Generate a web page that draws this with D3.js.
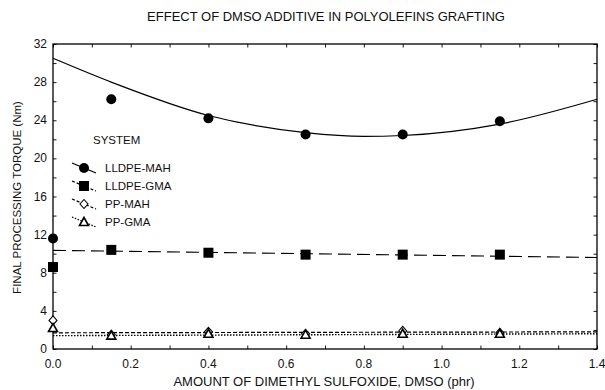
<!DOCTYPE html>
<html>
<head>
<meta charset="utf-8">
<script src="https://cdn.jsdelivr.net/npm/d3@7"></script>
<style>
    body { margin: 0; background: #fff; }
    svg { display: block; font-family: 'Liberation Sans', Arial, sans-serif; }
    .tick-label { font-size: 12px; fill: #111; }
    .legend-label { font-size: 11.5px; fill: #111; }
    .axis-label { font-size: 12.5px; fill: #111; }
</style>
</head>
<body>
<svg width="605" height="390"></svg>
<script>
// measured points
const dmso = [ 0, 0.15, 0.4, 0.65, 0.9, 1.15 ];
const lldpeMah = [ 11.6, 26.2, 24.2, 22.5, 22.5, 23.9 ];
const lldpeGma = [ 8.6, 10.4, 10.1, 9.9, 9.9, 9.9 ];
const ppMah = [ 3.0, 1.5, 1.8, 1.6, 1.9, 1.7 ];
const ppGma = [ 2.2, 1.4, 1.6, 1.5, 1.6, 1.6 ];

// fitted lines
const fitMahX = [ 0, 0.15, 0.4, 0.65, 0.8, 0.9, 1.15, 1.4 ];
const fitMahY = [ 30.5, 28.0, 24.5, 22.7, 22.3, 22.4, 23.6, 26.2 ];
const fitLineX = [ 0, 1.4 ];
const fitGmaY = [ 10.35, 9.6 ];
const fitPpMahY = [ 1.7, 1.8 ];
const fitPpGmaY = [ 1.4, 1.6 ];

const xTicks = [ 0, 0.2, 0.4, 0.6, 0.8, 1.0, 1.2, 1.4 ];
const yTicks = [ 0, 4, 8, 12, 16, 20, 24, 28, 32 ];
const seriesNames = [ 'LLDPE-MAH', 'LLDPE-GMA', 'PP-MAH', 'PP-GMA' ];

const margin = { left: 53, right: 8, top: 44, bottom: 41 };
const width = 605, height = 390;

const svg = d3.select( 'svg' );
const xScale = d3.scaleLinear().domain( [ 0, 1.4 ] ).range( [ margin.left, width - margin.right ] );
const yScale = d3.scaleLinear().domain( [ 0, 32 ] ).range( [ height - margin.bottom, margin.top ] );

const styles = [
    { dash: null, shape: 'circle' },
    { dash: '13,6', shape: 'square' },
    { dash: '4,2', shape: 'diamond' },
    { dash: '1.5,1.5', shape: 'triangle' }
];

function drawMarker( group, shape, x, y ) {
    if ( shape === 'circle' ) {
        group.append( 'circle' ).attr( 'cx', x ).attr( 'cy', y ).attr( 'r', 5 ).attr( 'fill', '#000' );
    } else if ( shape === 'square' ) {
        group.append( 'rect' ).attr( 'x', x - 5 ).attr( 'y', y - 5 )
            .attr( 'width', 10 ).attr( 'height', 10 ).attr( 'fill', '#000' );
    } else if ( shape === 'diamond' ) {
        group.append( 'path' )
            .attr( 'd', `M${x},${y - 4.5}L${x + 4},${y}L${x},${y + 4.5}L${x - 4},${y}Z` )
            .attr( 'fill', '#fff' ).attr( 'stroke', '#000' ).attr( 'stroke-width', 1.1 );
    } else {
        group.append( 'path' )
            .attr( 'd', `M${x},${y - 4.5}L${x + 4.5},${y + 3.5}L${x - 4.5},${y + 3.5}Z` )
            .attr( 'fill', '#fff' ).attr( 'stroke', '#000' ).attr( 'stroke-width', 1.6 );
    }
}

// axes: inward ticks on all four sides
const innerH = yScale( 0 ) - yScale( 32 );
const innerW = xScale( 1.4 ) - xScale( 0 );
const minorX = d3.range( 0, 15 ).map( i => i / 10 );
const minorY = d3.range( 0, 17 ).map( i => i * 2 );

function tickAxis( axis, scale, values, transform ) {
    const g = svg.append( 'g' ).attr( 'transform', transform )
        .call( axis( scale ).tickValues( values ).tickSize( 3.5 ).tickFormat( '' ) );
    g.select( '.domain' ).remove();
    g.selectAll( 'line' ).attr( 'stroke', '#000' ).attr( 'stroke-width', 0.9 );
    return g;
}
tickAxis( d3.axisTop, xScale, minorX, `translate(0,${yScale( 0 )})` );
tickAxis( d3.axisBottom, xScale, minorX, `translate(0,${yScale( 32 )})` );
tickAxis( d3.axisRight, yScale, minorY, `translate(${xScale( 0 )},0)` );
tickAxis( d3.axisLeft, yScale, minorY, `translate(${xScale( 1.4 )},0)` );

svg.append( 'rect' )
    .attr( 'x', xScale( 0 ) ).attr( 'y', yScale( 32 ) )
    .attr( 'width', innerW ).attr( 'height', innerH )
    .attr( 'fill', 'none' ).attr( 'stroke', '#000' ).attr( 'stroke-width', 1.3 );

svg.append( 'g' ).selectAll( 'text' ).data( xTicks ).enter().append( 'text' )
    .attr( 'class', 'tick-label' )
    .attr( 'x', d => xScale( d ) ).attr( 'y', yScale( 0 ) + 19 )
    .attr( 'text-anchor', 'middle' )
    .text( d => d.toFixed( 1 ) );

svg.append( 'g' ).selectAll( 'text' ).data( yTicks ).enter().append( 'text' )
    .attr( 'class', 'tick-label' )
    .attr( 'x', xScale( 0 ) - 6 ).attr( 'y', d => yScale( d ) + 4 )
    .attr( 'text-anchor', 'end' )
    .text( d => d );

// titles
svg.append( 'text' ).attr( 'class', 'axis-label' ).style( 'font-size', '13px' )
    .attr( 'x', 326 ).attr( 'y', 21 ).attr( 'text-anchor', 'middle' )
    .text( 'EFFECT OF DMSO ADDITIVE IN POLYOLEFINS GRAFTING' );
svg.append( 'text' ).attr( 'class', 'axis-label' ).style( 'font-size', '13px' )
    .attr( 'x', 324 ).attr( 'y', 386 ).attr( 'text-anchor', 'middle' )
    .text( 'AMOUNT OF DIMETHYL SULFOXIDE, DMSO (phr)' );
svg.append( 'text' ).attr( 'class', 'axis-label' ).style( 'font-size', '11.5px' )
    .attr( 'transform', `translate(21,${yScale( 16 ) + 1}) rotate(-90)` )
    .attr( 'text-anchor', 'middle' )
    .text( 'FINAL PROCESSING TORQUE (Nm)' );

// fitted lines
const line = d3.line().x( d => xScale( d[ 0 ] ) ).y( d => yScale( d[ 1 ] ) );
const fits = [
    { pts: fitMahX.map( ( x, i ) => [ x, fitMahY[ i ] ] ), curve: d3.curveMonotoneX },
    { pts: fitLineX.map( ( x, i ) => [ x, fitGmaY[ i ] ] ), curve: d3.curveLinear },
    { pts: fitLineX.map( ( x, i ) => [ x, fitPpMahY[ i ] ] ), curve: d3.curveLinear },
    { pts: fitLineX.map( ( x, i ) => [ x, fitPpGmaY[ i ] ] ), curve: d3.curveLinear }
];
fits.forEach( ( f, i ) => {
    svg.append( 'path' )
        .attr( 'd', line.curve( f.curve )( f.pts ) )
        .attr( 'fill', 'none' ).attr( 'stroke', '#000' )
        .attr( 'stroke-width', i === 3 ? 1.4 : 1.2 )
        .attr( 'stroke-dasharray', styles[ i ].dash );
} );

// markers
const markerGroup = svg.append( 'g' );
[ lldpeMah, lldpeGma, ppMah, ppGma ].forEach( ( values, i ) => {
    values.forEach( ( v, j ) => drawMarker( markerGroup, styles[ i ].shape, xScale( dmso[ j ] ), yScale( v ) ) );
} );

// legend
const legend = svg.append( 'g' );
legend.append( 'text' ).attr( 'class', 'legend-label' )
    .attr( 'x', 93 ).attr( 'y', 144 ).text( 'SYSTEM' );
seriesNames.forEach( ( name, i ) => {
    const cy = 168 + i * 18;
    legend.append( 'line' )
        .attr( 'x1', 72 ).attr( 'y1', cy - 5 ).attr( 'x2', 96 ).attr( 'y2', cy + 5 )
        .attr( 'stroke', '#000' ).attr( 'stroke-width', 1.2 )
        .attr( 'stroke-dasharray', i === 0 ? null : ( i === 3 ? '1.5,1.5' : '3,2' ) );
    drawMarker( legend, styles[ i ].shape, 84, cy );
    legend.append( 'text' ).attr( 'class', 'legend-label' )
        .attr( 'x', 105 ).attr( 'y', cy + 4 ).text( name );
} );
</script>
</body>
</html>
